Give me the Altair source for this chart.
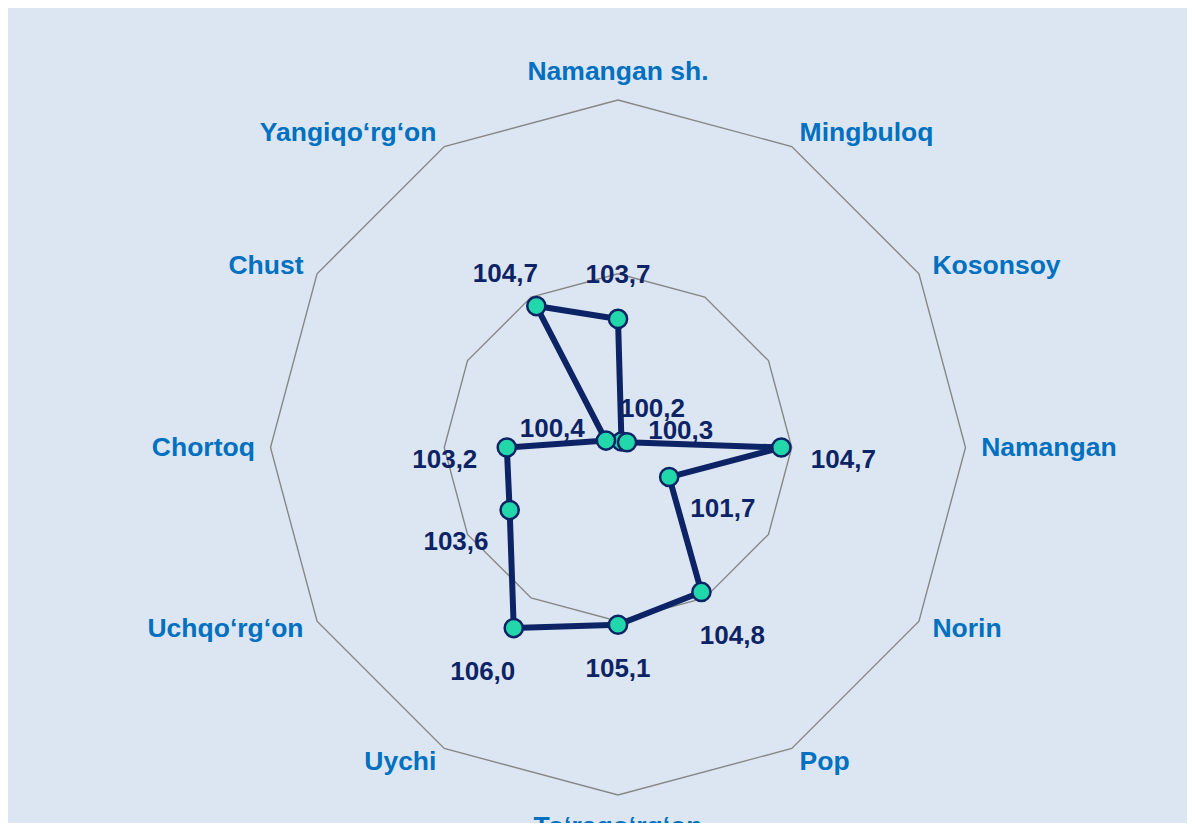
import altair as alt
import pandas as pd

categories = ["Namangan sh.", "Mingbuloq", "Kosonsoy", "Namangan", "Norin", "Pop",
              "To‘rago‘rg‘on", "Uychi", "Uchqo‘rg‘on", "Chortoq", "Chust", "Yangiqo‘rg‘on"]
values = [103.7, 100.2, 100.3, 104.7, 101.7, 104.8, 105.1, 106.0, 103.6, 103.2, 100.4, 104.7]
grid_levels = [105, 110]
axis_min = 100

n = len(categories)
W, H = 1179, 815
PXU = 34.75          # pixels per value unit
CX, CY = 610, 439.5  # centre inside the plot

xdom = [-CX / PXU, (W - CX) / PXU]
ydom = [-(H - CY) / PXU, CY / PXU]

pts = pd.DataFrame({"idx": list(range(n)), "category": categories, "value": values})
line_df = pd.concat([pts, pts.iloc[[0]].assign(idx=n)], ignore_index=True)
grid_df = pd.DataFrame([{"level": lv, "idx": i, "value": lv}
                        for lv in grid_levels for i in range(n + 1)])
cat_df = pd.DataFrame({"idx": list(range(n)), "category": categories})

ang = f"datum.idx * 2 * PI / {n}"
def polar(ch):
    return (ch.transform_calculate(ang=ang)
              .transform_calculate(r=f"datum.value - {axis_min}")
              .transform_calculate(px="datum.r * sin(datum.ang)",
                                   py="datum.r * cos(datum.ang)"))

X = lambda f: alt.X(f"{f}:Q", scale=alt.Scale(domain=xdom, nice=False, zero=False), axis=None)
Y = lambda f: alt.Y(f"{f}:Q", scale=alt.Scale(domain=ydom, nice=False, zero=False), axis=None)

grid = polar(alt.Chart(grid_df)).mark_line(color="#878787", strokeWidth=1.4).encode(
    x=X("px"), y=Y("py"), detail="level:N", order="idx:Q")

line = polar(alt.Chart(line_df)).mark_line(color="#0c2366", strokeWidth=6,
                                           strokeJoin="round").encode(
    x=X("px"), y=Y("py"), order="idx:Q")

points = polar(alt.Chart(pts)).mark_point(shape="circle", filled=True, size=330,
                                          fill="#22d8ab", stroke="#0c2366",
                                          strokeWidth=2.5, opacity=1).encode(
    x=X("px"), y=Y("py"))

labels = (polar(alt.Chart(pts))
          .transform_calculate(lx=f"datum.px + sin(datum.ang) * {62 / PXU}",
                               ly=f"datum.py + cos(datum.ang) * {44 / PXU} - abs(sin(datum.ang)) * {12 / PXU}",
                               txt="replace(format(datum.value, '.1f'), '.', ',')")
          .mark_text(font="Liberation Sans", fontWeight="bold", fontSize=26,
                     color="#0c2366", align="center", baseline="middle")
          .encode(x=X("lx"), y=Y("ly"), text="txt:N"))

def cat_layer(filt, align):
    return (alt.Chart(cat_df)
            .transform_filter(filt)
            .transform_calculate(ang=ang)
            .transform_calculate(rl="abs(cos(datum.ang)) > 0.99 ? (cos(datum.ang) > 0 ? 10.8 : 10.92) : 10.45")
            .transform_calculate(cx="datum.rl * sin(datum.ang)", cy="datum.rl * cos(datum.ang)")
            .mark_text(font="Liberation Sans", fontWeight="bold", fontSize=26.5,
                       color="#0070c0", align=align, baseline="middle")
            .encode(x=X("cx"), y=Y("cy"), text="category:N"))

cat_center = cat_layer(f"datum.idx == 0 || datum.idx == {n // 2}", "center")
cat_left = cat_layer(f"datum.idx > 0 && datum.idx < {n // 2}", "left")
cat_right = cat_layer(f"datum.idx > {n // 2}", "right")

chart = (alt.layer(grid, line, points, labels, cat_center, cat_left, cat_right)
         .properties(width=W, height=H, padding=0,
                     autosize=alt.AutoSizeParams(type="none"),
                     background="#dce6f2")
         .configure_view(stroke=None))

chart.save("out.html", embed_options={"renderer": "svg", "actions": False})
